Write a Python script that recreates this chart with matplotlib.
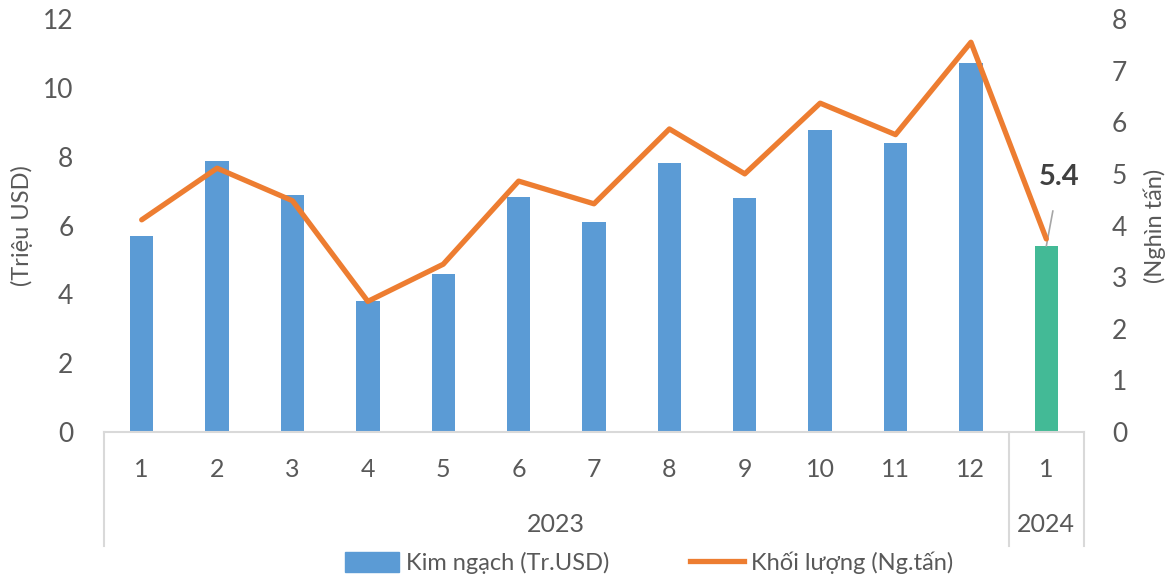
import matplotlib
matplotlib.use("Agg")
import matplotlib.pyplot as plt
from matplotlib.transforms import blended_transform_factory
from matplotlib.patches import Patch
from matplotlib.lines import Line2D

plt.rcParams['font.family'] = ['Lato', 'Open Sans', 'DejaVu Sans']

# Monthly data: export value (million USD) and volume (thousand tonnes)
months = ["1", "2", "3", "4", "5", "6", "7", "8", "9", "10", "11", "12", "1"]
years = ["2023", "2024"]
year_spans = [(0, 11), (12, 12)]
value_musd = [5.70, 7.88, 6.89, 3.80, 4.59, 6.84, 6.11, 7.83, 6.80, 8.77, 8.40, 10.71, 5.4]
volume_kt = [4.11, 5.11, 4.48, 2.53, 3.25, 4.86, 4.42, 5.87, 5.00, 6.37, 5.76, 7.55, 3.74]

BLUE = "#5B9BD5"
GREEN = "#43BA96"
ORANGE = "#ED7D31"
GREY_TXT = "#595959"
GRID = "#D9D9D9"

W, H = 1170, 579
fig = plt.figure(figsize=(W / 100, H / 100), dpi=100)
ax = fig.add_axes([104 / W, (H - 432) / H, 980 / W, (432 - 19) / H])
ax2 = ax.twinx()

x = list(range(len(months)))
colors = [BLUE] * (len(months) - 1) + [GREEN]
ax.bar(x, value_musd, width=0.31, color=colors, zorder=2)
ax2.plot(x, volume_kt, color=ORANGE, lw=3.8, solid_joinstyle="round",
         solid_capstyle="round", zorder=3)

ax.set_xlim(-0.5, len(months) - 0.5)
ax.set_ylim(0, 12)
ax2.set_ylim(0, 8)
ax.set_yticks(range(0, 13, 2))
ax2.set_yticks(range(0, 9))

for a in (ax, ax2):
    for s in a.spines.values():
        s.set_visible(False)
ax.spines['bottom'].set_visible(True)
ax.spines['bottom'].set_color(GRID)
ax.spines['bottom'].set_linewidth(1.5)

ax.tick_params(axis='y', length=0, pad=22, labelsize=19, labelcolor=GREY_TXT)
ax2.tick_params(axis='y', length=0, pad=20, labelsize=19, labelcolor=GREY_TXT)
ax.set_xticks(x)
ax.set_xticklabels(months)
ax.tick_params(axis='x', length=0, pad=19, labelsize=18, labelcolor=GREY_TXT)

ax.set_ylabel("(Triệu USD)", fontsize=17, color=GREY_TXT, va="center")
ax2.set_ylabel("(Nghìn tấn)", fontsize=17, color=GREY_TXT, rotation=90,
               va="center")
ax.yaxis.set_label_coords((22 - 104) / 980, 0.5)
ax2.yaxis.set_label_coords((1155 - 104) / 980, 0.5)

# Year group labels and separators below the month axis
tr = blended_transform_factory(ax.transData, fig.transFigure)
for yr, (a, b) in zip(years, year_spans):
    ax.text((a + b) / 2, (H - 525) / H, yr, transform=tr, ha="center",
            va="center", fontsize=18, color=GREY_TXT)
for sx in [-0.5, year_spans[1][0] - 0.5, len(months) - 0.5]:
    ax.plot([sx, sx], [(H - 432) / H, (H - 546) / H], transform=tr,
            color=GRID, lw=1.5, clip_on=False)

# Callout for the latest month
last = len(months) - 1
ax.annotate(f"{value_musd[last]:.1f}", xy=(last, value_musd[last]),
            xytext=(last + 0.17, 7.4), ha="center", va="center",
            fontsize=21, fontweight="bold", color="#404040",
            arrowprops=dict(arrowstyle="-", color="#A6A6A6", lw=1.2,
                            shrinkA=13, shrinkB=0))

handles = [Patch(color=BLUE), Line2D([0], [0], color=ORANGE, lw=3.8)]
fig.legend(handles, ["Kim ngạch (Tr.USD)", "Khối lượng (Ng.tấn)"],
           loc="center", bbox_to_anchor=(0.555, (H - 563) / H), ncol=2,
           frameon=False, fontsize=17, labelcolor=GREY_TXT,
           handlelength=2.3, handleheight=0.95, columnspacing=3.4,
           handletextpad=0.3)

fig.savefig("out.png", dpi=100)
